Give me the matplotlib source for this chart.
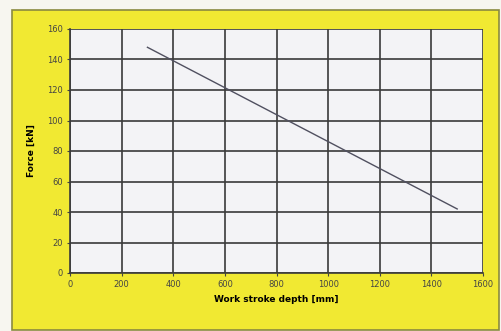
import matplotlib.pyplot as plt
from matplotlib.patches import Rectangle

# Data
depth = [300, 1500]
force = [148, 42]
x_ticks = [0, 200, 400, 600, 800, 1000, 1200, 1400, 1600]
y_ticks = [0, 20, 40, 60, 80, 100, 120, 140, 160]

fig = plt.figure(figsize=(5.01, 3.31), dpi=100)
fig.patch.set_facecolor('#f7f6f0')

# Yellow frame behind the chart
frame = Rectangle((12/501, 1 - 330/331), (499-12)/501, (330-10)/331,
                  transform=fig.transFigure, facecolor='#f1e932',
                  edgecolor='#8a8a40', linewidth=1.2, zorder=-5)
fig.patches.append(frame)

ax = fig.add_axes([70/501, 1 - 273/331, (483-70)/501, (273-29)/331])
ax.set_zorder(1)
ax.set_facecolor('#f3f3f6')

ax.plot(depth, force, color='#505060', linewidth=1.0, zorder=3)

ax.set_xlim(0, 1600)
ax.set_ylim(0, 160)
ax.set_xticks(x_ticks)
ax.set_yticks(y_ticks)
ax.tick_params(labelsize=6, length=2, width=0.8, colors='#444444', pad=3)
ax.grid(True, color='#3a3a3a', linewidth=1.2)
ax.set_axisbelow(True)

for side in ['top', 'right']:
    ax.spines[side].set_visible(False)
for side in ['left', 'bottom']:
    ax.spines[side].set_color('#3a3a3a')
    ax.spines[side].set_linewidth(1.2)

ax.set_xlabel('Work stroke depth [mm]', fontsize=6.5, fontweight='bold', labelpad=4)
ax.set_ylabel('Force [kN]', fontsize=6.5, fontweight='bold', labelpad=8)

fig.savefig('out.png', dpi=100, facecolor=fig.get_facecolor())
